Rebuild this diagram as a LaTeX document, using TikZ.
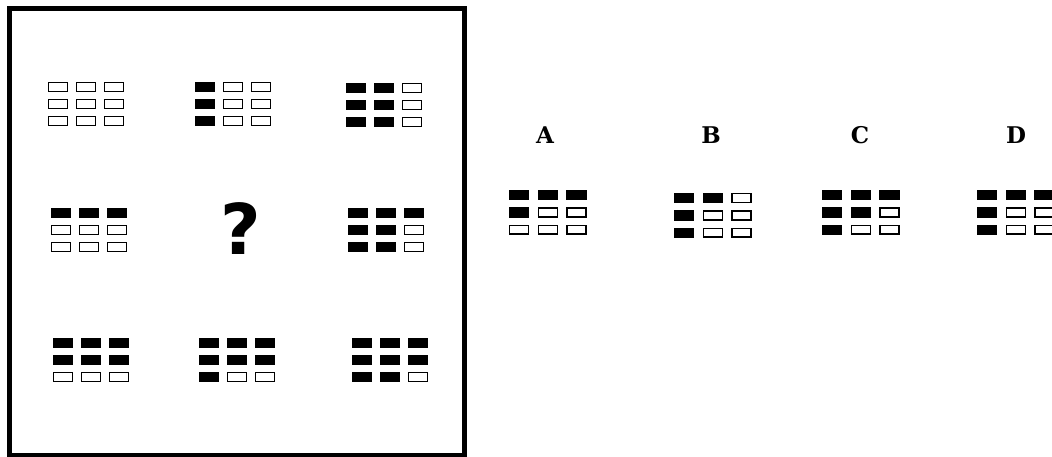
\documentclass[tikz,border=0pt]{standalone}
\usepackage{fontspec}
\usepackage{tikz}
\newfontfamily\slabfont{DejaVu Serif}
\newfontfamily\heavyfont{DejaVu Sans}
\tikzset{
  frameline/.style={line width=5pt},
  fullcell/.style={fill=black},
  emptycell/.style={draw=black, line width=1.4pt, fill=white},
  optlabel/.style={font=\fontsize{23}{23}\selectfont\slabfont\bfseries, inner sep=0pt},
  askmark/.style={font=\fontsize{70}{70}\selectfont\heavyfont\bfseries, inner sep=0pt},
}
% #1,#2 = top-left corner, #3 = scale, #4 = nine cells row by row (1 = black)
\newcommand{\blockgrid}[4]{%
  \begin{scope}[shift={(#1,#2)}, scale=#3]
    \foreach \b [count=\k from 0] in {#4} {
      \pgfmathtruncatemacro{\cx}{mod(\k,3)}
      \pgfmathtruncatemacro{\cy}{div(\k,3)}
      \ifnum\b=1\relax
        \fill[fullcell] (28*\cx,17*\cy) rectangle +(20,10);
      \else
        \draw[emptycell] (28*\cx+0.7,17*\cy+0.7) rectangle +(18.6,8.6);
      \fi
    }
  \end{scope}
}

\begin{document}
\begin{tikzpicture}[x=1pt, y=-1pt]
  \useasboundingbox (0,0) rectangle (1052,457);
  % puzzle frame
  \draw[frameline] (9.5,8.5) rectangle (464.5,455);
  % first row
  \blockgrid{48}{82}{1}{0,0,0, 0,0,0, 0,0,0}
  \blockgrid{195}{82}{1}{1,0,0, 1,0,0, 1,0,0}
  \blockgrid{346}{83}{1}{1,1,0, 1,1,0, 1,1,0}
  % second row
  \blockgrid{51}{208}{1}{1,1,1, 0,0,0, 0,0,0}
  \node[askmark] (qmark) at (241,229) {?};
  \blockgrid{348}{208}{1}{1,1,1, 1,1,0, 1,1,0}
  % third row
  \blockgrid{53}{338}{1}{1,1,1, 1,1,1, 0,0,0}
  \blockgrid{199}{338}{1}{1,1,1, 1,1,1, 1,0,0}
  \blockgrid{352}{338}{1}{1,1,1, 1,1,1, 1,1,0}
  % answer options
  \node[optlabel] (labA) at (545,135) {A};
  \node[optlabel] (labB) at (711,135) {B};
  \node[optlabel] (labC) at (860,135) {C};
  \node[optlabel] (labD) at (1016,135) {D};
  \blockgrid{509}{190}{1.02}{1,1,1, 1,0,0, 0,0,0}
  \blockgrid{674}{193}{1.02}{1,1,0, 1,0,0, 1,0,0}
  \blockgrid{822}{190}{1.02}{1,1,1, 1,1,0, 1,0,0}
  \blockgrid{977}{190}{1.02}{1,1,1, 1,0,0, 1,0,0}
\end{tikzpicture}
\end{document}
